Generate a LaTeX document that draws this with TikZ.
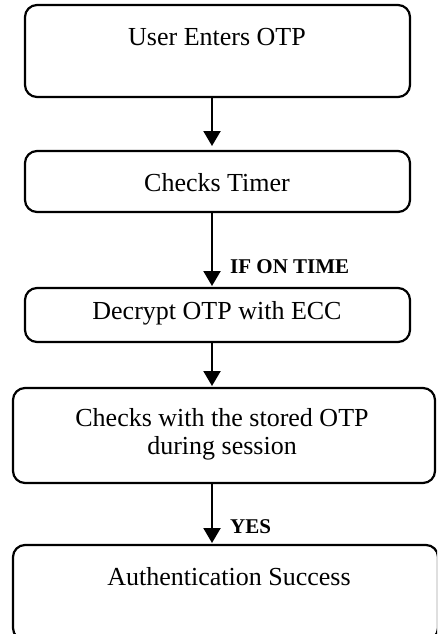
\documentclass[tikz,border=0pt]{standalone}
\usepackage{fontspec}
\setmainfont{Liberation Serif}
\usetikzlibrary{arrows.meta}
\begin{document}
\begin{tikzpicture}[x=1pt,y=-1pt,
  box/.style={draw=black, line width=2.2pt, rounded corners=12pt, inner sep=0pt},
  txt/.style={font=\fontsize{26}{30}\selectfont, align=center, inner sep=0pt},
  lbl/.style={font=\fontsize{21}{24}\selectfont\bfseries, anchor=west, inner sep=0pt},
  arr/.style={line width=2.2pt, -{Triangle[width=17pt,length=15pt]}}]
\useasboundingbox (0,0) rectangle (437,634);
\begin{scope}
\clip (0,0) rectangle (437,634);
% boxes
\node[box, minimum width=385pt, minimum height=92pt] (b1) at (217.5,51) {};
\node[box, minimum width=385pt, minimum height=61pt] (b2) at (217.5,181.5) {};
\node[box, minimum width=385pt, minimum height=54pt] (b3) at (217.5,315) {};
\node[box, minimum width=422pt, minimum height=95pt] (b4) at (224,435.5) {};
\node[box, minimum width=425pt, minimum height=95pt] (b5) at (225.5,592.5) {};
\end{scope}
% texts
\node[txt] (t1) at (217,37) {User Enters OTP};
\node[txt] (t2) at (217,183) {Checks Timer};
\node[txt] (t3) at (217,313) {Decrypt OTP with ECC};
\node[txt] (t4) at (222,434) {Checks with the stored OTP\\[-2pt]during session};
\node[txt] (t5) at (229,577) {Authentication Success};
% arrows
\coordinate (a1s) at (212,97); \coordinate (a1e) at (212,146);
\coordinate (a2s) at (212,212); \coordinate (a2e) at (212,286);
\coordinate (a3s) at (212,342); \coordinate (a3e) at (212,386);
\coordinate (a4s) at (212,483); \coordinate (a4e) at (212,543);
\draw[arr] (a1s) -- (a1e);
\draw[arr] (a2s) -- (a2e);
\draw[arr] (a3s) -- (a3e);
\draw[arr] (a4s) -- (a4e);
% labels
\node[lbl] (l1) at (230,267) {IF ON TIME};
\node[lbl] (l2) at (230,527) {YES};
\end{tikzpicture}
\end{document}
